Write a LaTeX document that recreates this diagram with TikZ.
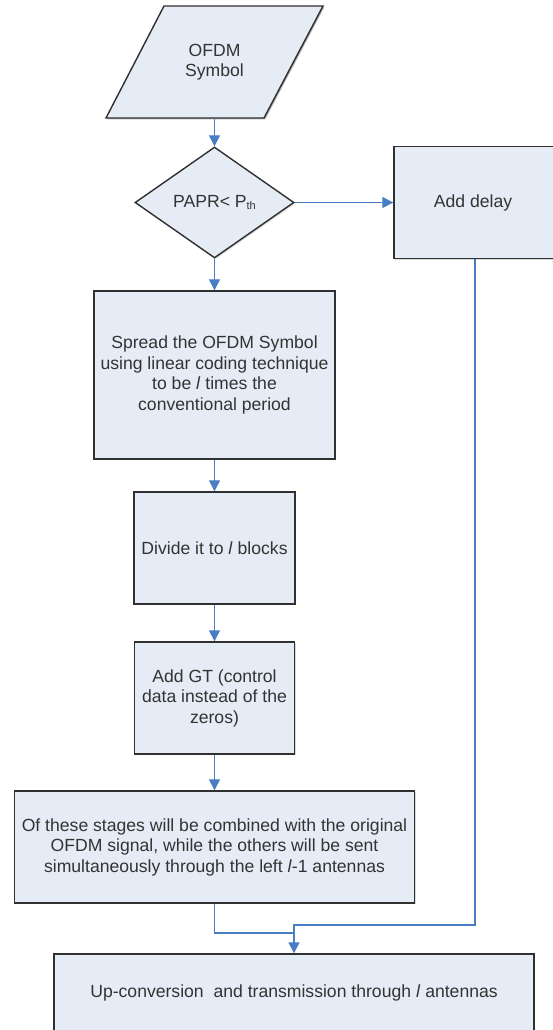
\documentclass[tikz,border=0pt]{standalone}
\usepackage{fontspec}
\setmainfont{Liberation Sans}
\usetikzlibrary{shapes.geometric,arrows.meta,shadows}
\definecolor{boxfill}{HTML}{E6ECF6}
\definecolor{boxline}{HTML}{303030}
\definecolor{arrowblue}{HTML}{4A7EC4}
\definecolor{txt}{HTML}{333333}
\tikzset{
  flowbox/.style={draw=boxline, fill=boxfill, line width=1.4pt, rectangle, inner sep=0pt,
    align=center, text=txt, font=\fontsize{17.6}{20.5}\selectfont,
    drop shadow={shadow xshift=1.3pt, shadow yshift=-1.3pt, opacity=0.3}},
  decbox/.style={flowbox, diamond, aspect=1.43},
  ghost/.style={rectangle, inner sep=0pt, align=center, text=txt, font=\fontsize{17.6}{20.5}\selectfont},
  conn/.style={draw=arrowblue, line width=1.3pt},
  arr/.style={conn, -{Triangle[length=11pt,width=11pt]}}
}
\begin{document}
\begin{tikzpicture}[x=1pt,y=1pt]
\useasboundingbox (0,0) rectangle (553,-1030);
\clip (0,0) rectangle (553,-1030);
% parallelogram (input)
\fill[black, opacity=0.3] (165.3,-7.3) -- (324.3,-7.3) -- (265.3,-119.3) -- (107.3,-119.3) -- cycle;
\filldraw[fill=boxfill, draw=boxline, line width=1.4pt, line join=miter]
  (164,-6) -- (323,-6) -- (264,-118) -- (106,-118) -- cycle;
\node[ghost, minimum width=217pt, minimum height=112pt] (sym) at (214.5,-62) {OFDM\\Symbol};
% decision
\node[decbox, minimum width=159pt, minimum height=111pt] (dec) at (214.5,-202.5)
  {PAPR< P\raisebox{-0.3ex}{\fontsize{11}{11}\selectfont th}};
% delay
\node[flowbox, minimum width=162pt, minimum height=112pt] (delay) at (475,-202.5) {Add delay\hspace{4pt}};
% column boxes
\node[flowbox, minimum width=241pt, minimum height=168pt] (spread) at (214.5,-375)
  {Spread the OFDM Symbol\\using linear coding technique\\to be \textit{l} times the\\conventional period};
\node[flowbox, minimum width=161pt, minimum height=112pt] (divide) at (214.5,-548)
  {Divide it to \textit{l} blocks};
\node[flowbox, minimum width=160pt, minimum height=112pt] (addgt) at (214.5,-698)
  {Add GT (control\\data instead of the\\zeros)};
\node[flowbox, minimum width=400pt, minimum height=112pt] (comb) at (214.5,-847)
  {Of these stages will be combined with the original\\OFDM signal, while the others will be sent\\simultaneously through the left \textit{l}-1 antennas};
\node[flowbox, minimum width=480pt, minimum height=78pt] (up) at (294,-993)
  {Up-conversion\ \ and transmission through \textit{l} antennas};
% connectors
\draw[arr] (sym.south) -- (dec.north);
\draw[arr] (dec.east) -- (delay.west);
\draw[arr] (dec.south) -- (spread.north);
\draw[arr] (spread.south) -- (divide.north);
\draw[arr] (divide.south) -- (addgt.north);
\draw[arr] (addgt.south) -- (comb.north);
\coordinate (mergeL) at (294,-933);
\coordinate (mergeR) at (294,-925);
\draw[arr] (comb.south) |- (mergeL) -- (up.north);
\draw[conn] (delay.south) |- (mergeR) -- (mergeL);
\end{tikzpicture}
\end{document}
